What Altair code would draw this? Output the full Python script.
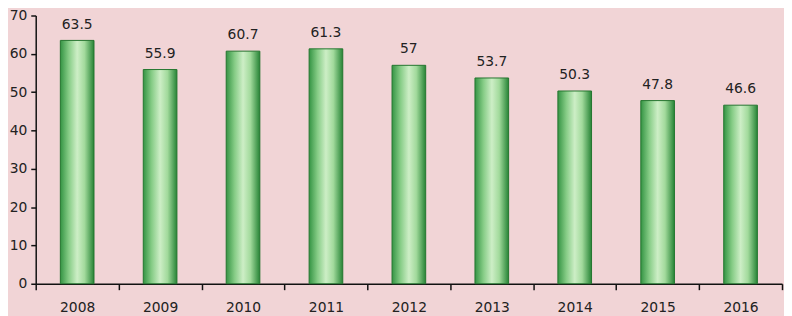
import altair as alt
import pandas as pd

years = ["2008", "2009", "2010", "2011", "2012", "2013", "2014", "2015", "2016"]
values = [63.5, 55.9, 60.7, 61.3, 57, 53.7, 50.3, 47.8, 46.6]
labels = ["63.5", "55.9", "60.7", "61.3", "57", "53.7", "50.3", "47.8", "46.6"]
y_ticks = [0, 10, 20, 30, 40, 50, 60, 70]

df = pd.DataFrame({"year": years, "value": values, "label": labels})

FONT = "DejaVu Sans"

x = alt.X("year:N", sort=years, title=None,
          scale=alt.Scale(paddingInner=0, paddingOuter=0),
          axis=alt.Axis(labelAngle=0, tickBand="extent", domainColor="#111",
                        domainWidth=1.5, tickColor="#111", tickWidth=1.5,
                        tickSize=6, labelPadding=11, labelFontSize=14,
                        labelFont=FONT, labelColor="#222"))
y = alt.Y("value:Q", title=None,
          scale=alt.Scale(domain=[0, 70], nice=False),
          axis=alt.Axis(values=y_ticks, grid=False, tickCount=8,
                        labelOverlap=False, labelFlush=False,
                        domainColor="#111", domainWidth=1.5, tickColor="#111",
                        tickWidth=1.5, tickSize=5, labelPadding=4,
                        labelFontSize=14, labelFont=FONT, labelColor="#222"))

grad = alt.Gradient(
    gradient="linear", x1=0, x2=1, y1=0, y2=0,
    stops=[
        alt.GradientStop(offset=0, color="#359444"),
        alt.GradientStop(offset=0.25, color="#86CC86"),
        alt.GradientStop(offset=0.5, color="#CDEEC6"),
        alt.GradientStop(offset=0.72, color="#A2DA9C"),
        alt.GradientStop(offset=1, color="#278436"),
    ],
)

base = alt.Chart(df).encode(x=x, y=y)

bars = base.mark_bar(size=34, fill=grad, stroke="#23752F", strokeWidth=1)

text = base.mark_text(baseline="bottom", dy=-9, fontSize=14,
                      font=FONT, color="#222").encode(text="label:N")

chart = alt.layer(bars, text).properties(
    width=754, height=271,
    background="#F1D4D6",
    padding={"left": 28, "top": 6, "right": 2, "bottom": 31},
    autosize=alt.AutoSizeParams(type="none"),
).configure_view(stroke=None)

chart.save("out.html", embed_options={"renderer": "svg", "actions": False})
